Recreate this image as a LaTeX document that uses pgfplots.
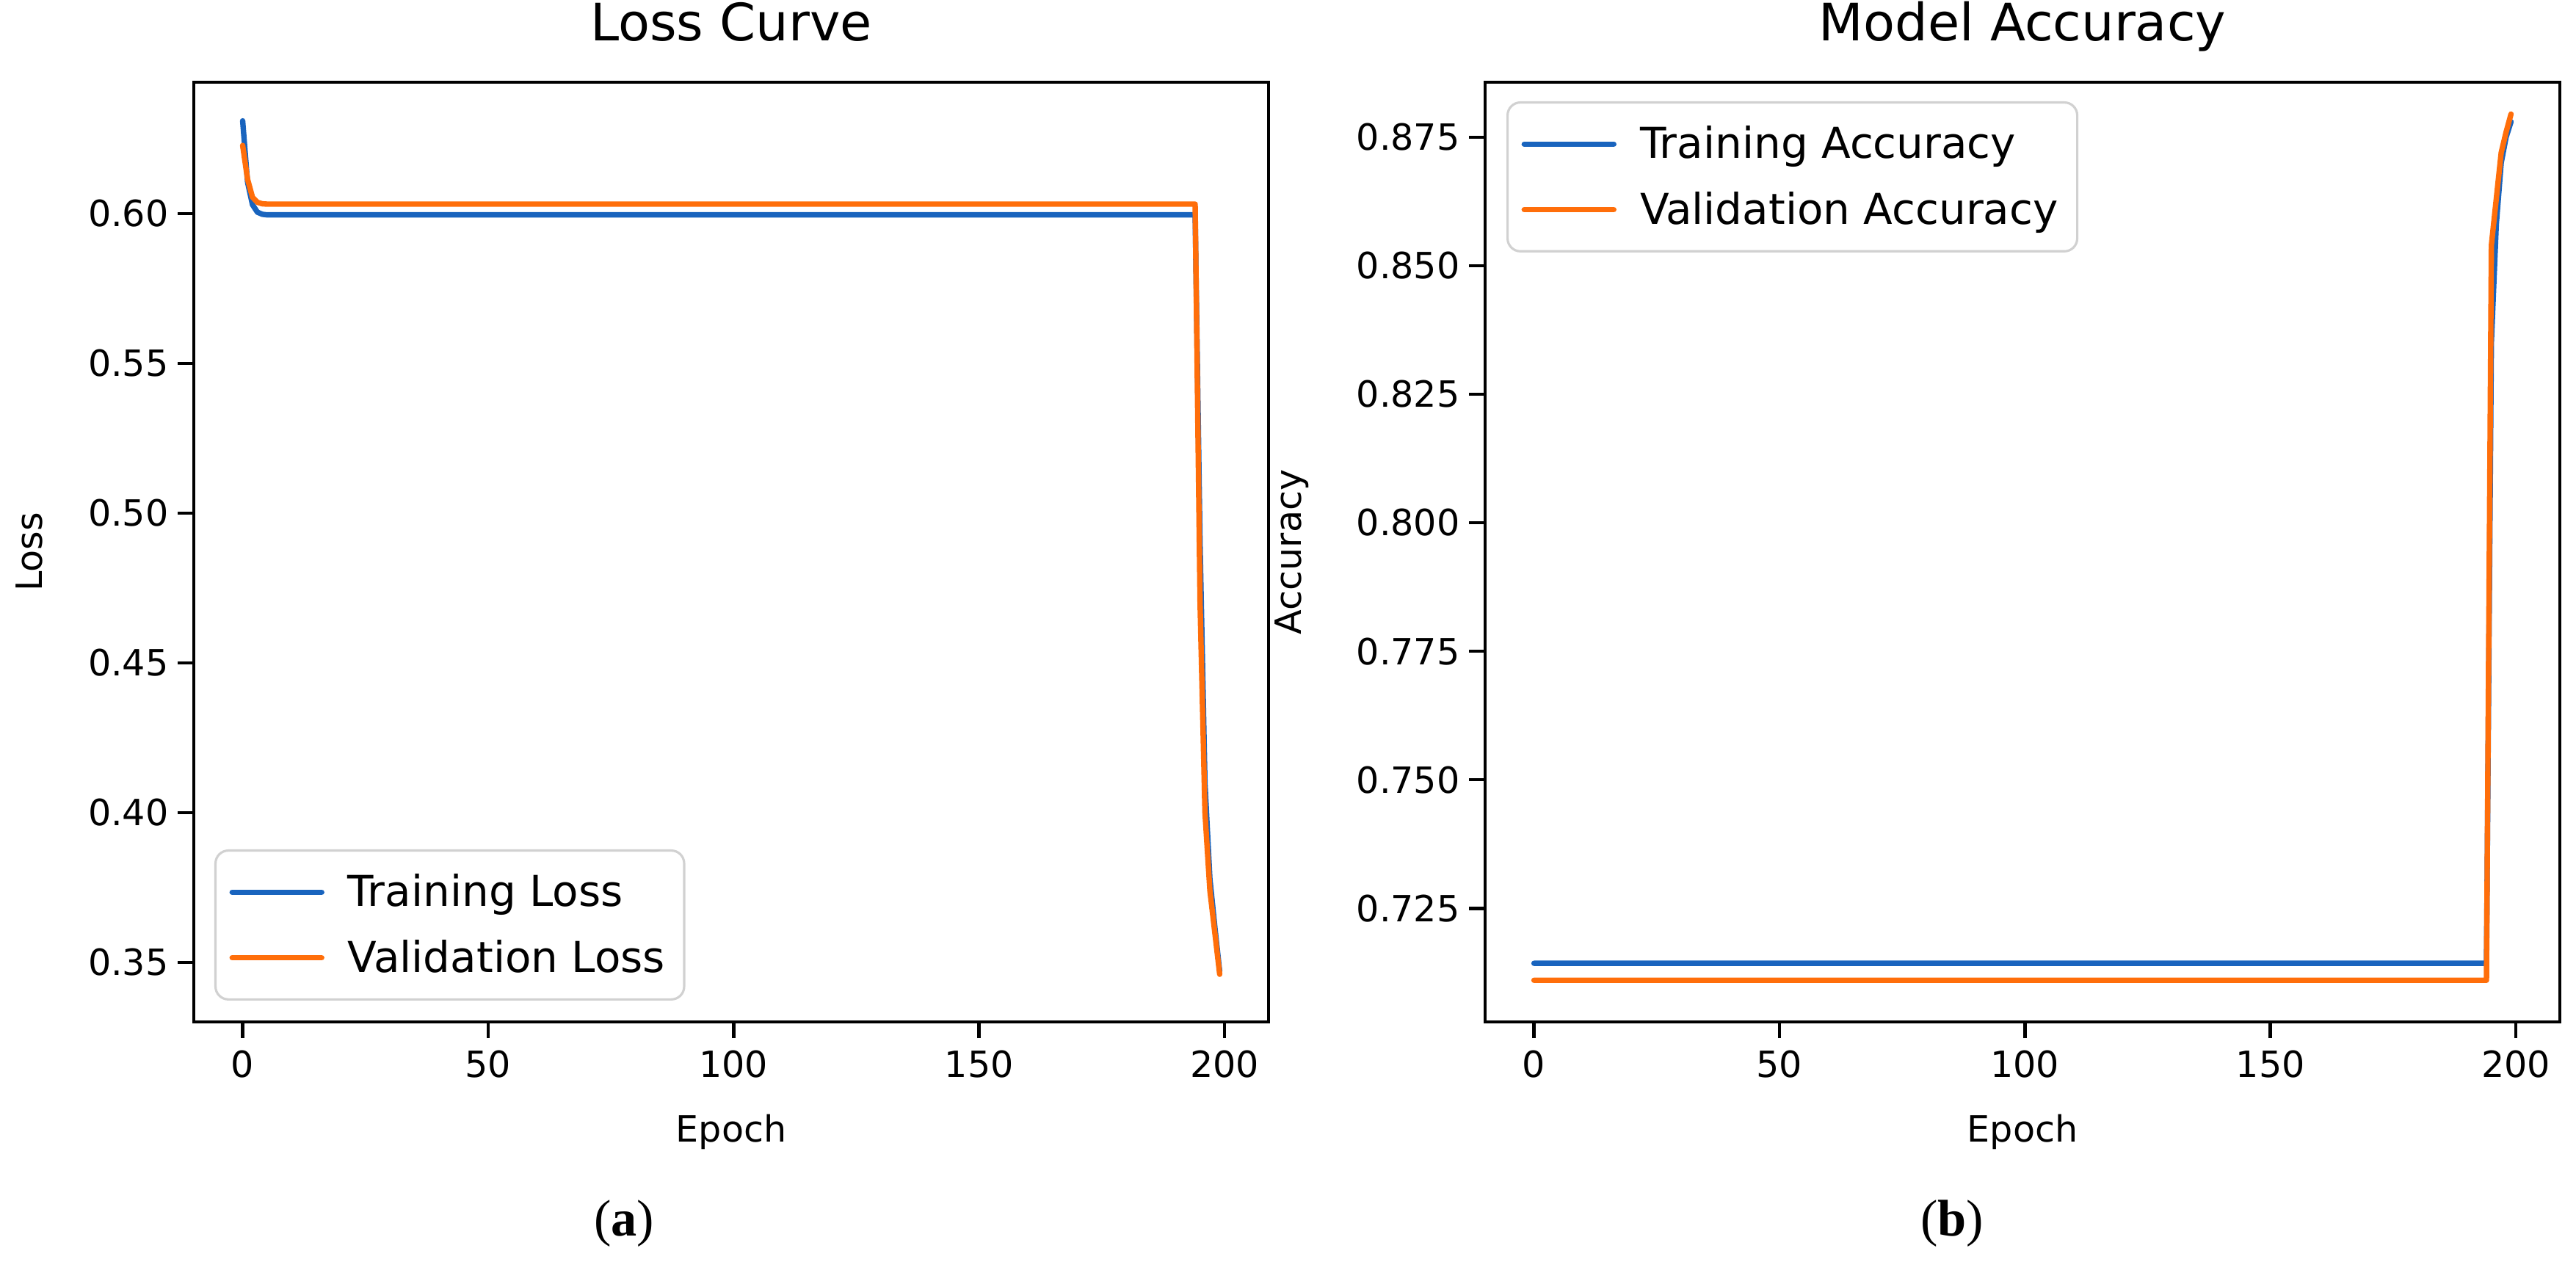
\documentclass[border=0pt]{standalone}
\usepackage{fontspec}
\setmainfont{DejaVu Sans}
\newfontfamily\capfont{Liberation Serif}
\usepackage{pgfplots}
\pgfplotsset{compat=1.18}
\definecolor{tblue}{RGB}{25,100,190}
\definecolor{torange}{RGB}{255,110,10}
\pgfplotsset{
  myaxis/.style={
    scale only axis, width=14.64cm, height=12.80cm,
    axis line style={line width=1.3pt, black},
    tick align=outside, tick pos=left, major tick length=0.22cm,
    every tick/.style={line width=1.3pt, black},
    xmin=-9.95, xmax=208.95,
    xtick={0,50,100,150,200},
    /pgf/number format/assume math mode=true,
    tick label style={font=\fontsize{14}{17}\selectfont},
    xticklabel style={yshift=-0.05cm},
    every axis plot/.append style={line width=2.1pt, line join=round, line cap=round, mark=none},
    legend style={draw=black!18, line width=0.9pt, rounded corners=5pt,
      font=\fontsize{16.5}{19.5}\selectfont, cells={anchor=west},
      inner xsep=0.19cm, inner ysep=0.25cm, row sep=0.26cm},
    legend image code/.code={\draw[#1] (0cm,0cm) -- (1.22cm,0cm); \path (1.47cm,0cm);},
    title style={font=\fontsize{20}{24}\selectfont, anchor=base, at={(axis description cs:0.5,1)}, yshift=0.35cm},
    xlabel style={font=\fontsize{14}{17}\selectfont, at={(axis description cs:0.5,0)}, anchor=north, inner sep=0pt, yshift=-1.25cm},
  }
}
\begin{document}
\begin{tikzpicture}
\path[use as bounding box] (0,0) rectangle (35.09,17.49);
% ---------- Loss ----------
\begin{axis}[myaxis, at={(2.64cm,3.57cm)}, anchor=south west,
  ymin=0.3301, ymax=0.6439,
  ytick={0.35,0.40,0.45,0.50,0.55,0.60},
  yticklabel style={/pgf/number format/.cd, fixed, fixed zerofill, precision=2},
  title={Loss Curve}, xlabel={Epoch},
  ylabel={Loss},
  ylabel style={font=\fontsize{14}{17}\selectfont, at={(axis description cs:0,0.5)}, anchor=center, inner sep=0pt, yshift=2.24cm},
  legend style={at={(axis description cs:0.0191,0.0227)}, anchor=south west},
]
\addplot[tblue] coordinates {(0,0.631) (1,0.6105) (2,0.6030) (3,0.6005) (4,0.5998) (5,0.5996) (194,0.5996) (195,0.49) (196,0.41) (197,0.378) (198,0.362) (199,0.347)};
\addlegendentry{Training Loss}
\addplot[torange] coordinates {(0,0.6228) (1,0.6115) (2,0.6055) (3,0.6038) (4,0.6033) (5,0.6032) (194,0.6032) (195,0.47) (196,0.40) (197,0.374) (198,0.360) (199,0.346)};
\addlegendentry{Validation Loss}
\end{axis}
% ---------- Accuracy ----------
\begin{axis}[myaxis, at={(20.23cm,3.57cm)}, anchor=south west,
  ymin=0.7029, ymax=0.8857,
  ytick={0.725,0.750,0.775,0.800,0.825,0.850,0.875},
  yticklabel style={/pgf/number format/.cd, fixed, fixed zerofill, precision=3},
  title={Model Accuracy}, xlabel={Epoch},
  ylabel={Accuracy},
  ylabel style={font=\fontsize{14}{17}\selectfont, at={(axis description cs:0,0.5)}, anchor=center, inner sep=0pt, yshift=2.63cm},
  legend style={at={(axis description cs:0.0198,0.9797)}, anchor=north west},
]
\addplot[tblue] coordinates {(0,0.7143) (194,0.7143) (195,0.835) (196,0.858) (197,0.870) (198,0.875) (199,0.878)};
\addlegendentry{Training Accuracy}
\addplot[torange] coordinates {(0,0.7110) (194,0.7110) (195,0.854) (196,0.863) (197,0.872) (198,0.876) (199,0.8795)};
\addlegendentry{Validation Accuracy}
\end{axis}
% captions
\node[font=\capfont\fontsize{20}{24}\selectfont] at (8.50,17.49-16.67) {(\textbf{a})};
\node[font=\capfont\fontsize{20}{24}\selectfont] at (26.59,17.49-16.67) {(\textbf{b})};
\end{tikzpicture}
\end{document}
